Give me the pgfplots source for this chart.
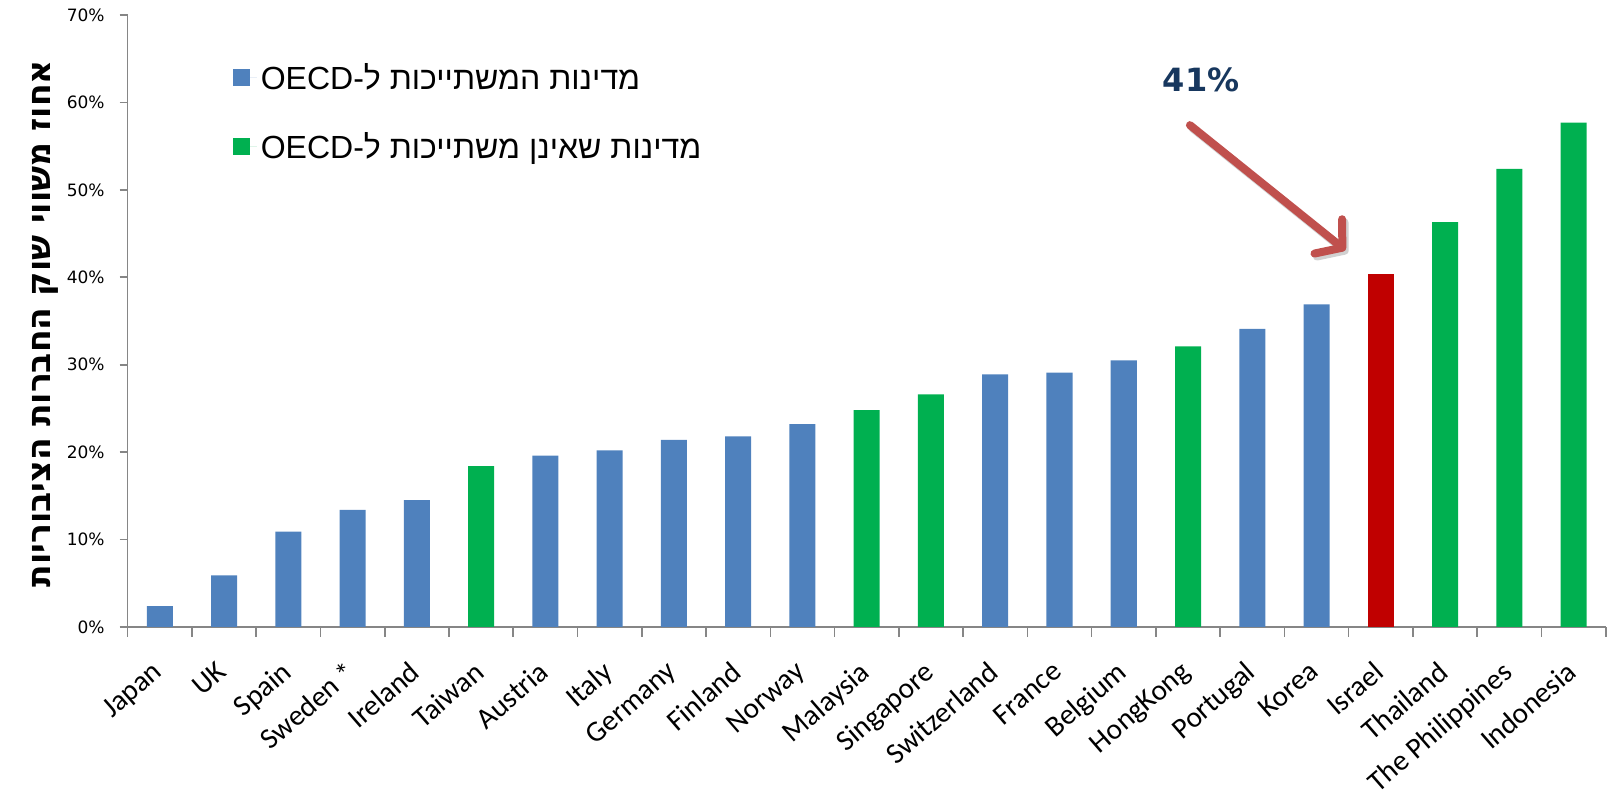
\documentclass[border=0pt]{standalone}
\usepackage{pgfplots}
\pgfplotsset{compat=1.18}
\usepackage{fontspec}
\setmainfont{Liberation Sans}
\newfontfamily\hebfont[Script=Hebrew]{Liberation Sans}
\newfontfamily\hebbold[Script=Hebrew]{DejaVu Sans Bold}
\newfontfamily\catfont{Carlito}
\newfontfamily\tickfont{DejaVu Sans}
\newfontfamily\tickbold{DejaVu Sans Bold}
\usetikzlibrary{arrows.meta}
\TeXXeTstate=1
\definecolor{oecdblue}{HTML}{4F81BD}
\definecolor{nonoecd}{HTML}{00B050}
\definecolor{israelred}{HTML}{C00000}
\definecolor{arrowred}{HTML}{C0504D}
\definecolor{navy}{HTML}{17375E}
\definecolor{axisgray}{HTML}{868686}
\begin{document}
\begin{tikzpicture}
\begin{axis}[
  scale only axis, width=739pt, height=306pt,
  xmin=-0.5, xmax=22.5, ymin=0, ymax=70,
  axis x line*=bottom, axis y line*=left,
  axis line style={axisgray, line width=0.8pt},
  ybar, bar width=0.405,
  tick align=outside,
  xtick={0,...,22},
  xticklabels={Japan,UK,Spain,Sweden *,Ireland,Taiwan,Austria,Italy,Germany,Finland,Norway,Malaysia,Singapore,Switzerland,France,Belgium,HongKong,Portugal,Korea,Israel,Thailand,The Philippines,Indonesia},
  major x tick style={draw=none},
  minor xtick={-0.5,0.5,...,22.5},
  minor tick length=5pt,
  minor x tick style={axisgray, line width=0.8pt},
  xticklabel style={font=\catfont\fontsize{14.6}{17}\selectfont, xshift=-4pt, yshift=-7.5pt, rotate=41, anchor=north east},
  ytick={0,10,...,70},
  major tick length=4pt,
  ytick style={axisgray, line width=0.8pt},
  /pgf/number format/assume math mode=true,
  yticklabel={\pgfmathprintnumber{\tick}\%},
  yticklabel style={font=\tickfont\fontsize{8.5}{10}\selectfont, xshift=-4pt},
  ylabel={\hebbold\beginR אחוז משווי שוק החברות הציבוריות\endR},
  ylabel style={font=\fontsize{16.5}{18}\selectfont, at={(rel axis cs:-0.056,0.496)}, anchor=center},
  legend style={draw=none, fill=none, at={(rel axis cs:0.0668,0.935)}, anchor=north west,
    font=\hebfont\fontsize{16}{18}\selectfont, row sep=16pt},
  legend cell align=left,
]
\addplot[fill=oecdblue, draw=none, bar shift=0pt,
  legend image code/.code={\fill[oecdblue] (0pt,-4.25pt) rectangle (8.5pt,4.25pt); \path (0pt,0pt) -- (12pt,0pt);}]
  coordinates {(0,2.4) (1,5.9) (2,10.9) (3,13.4) (4,14.5) (6,19.6) (7,20.2) (8,21.4) (9,21.8) (10,23.2) (13,28.9) (14,29.1) (15,30.5) (17,34.1) (18,36.9)};
\addlegendentry{\beginR מדינות המשתייכות ל-\beginL OECD\endL\endR}
\addplot[fill=nonoecd, draw=none, bar shift=0pt,
  legend image code/.code={\fill[nonoecd] (0pt,-4.25pt) rectangle (8.5pt,4.25pt); \path (0pt,0pt) -- (12pt,0pt);}]
  coordinates {(5,18.4) (11,24.8) (12,26.6) (16,32.1) (20,46.3) (21,52.4) (22,57.7)};
\addlegendentry{\beginR מדינות שאינן משתייכות ל-\beginL OECD\endL\endR}
\addplot[fill=israelred, draw=none, bar shift=0pt, forget plot]
  coordinates {(19,40.4)};
\node[font=\tickbold\fontsize{16}{19}\selectfont, text=navy] at (rel axis cs:0.7262,0.8938) {41\%};
\draw[black, opacity=0.18, line width=4pt, line cap=round, -{Straight Barb[length=9pt,width=22pt, round]}, shift={(1.2pt,-1.5pt)}] (axis cs:16.03,57.4) -- (axis cs:18.45,43.1);
\draw[arrowred, line width=4pt, line cap=round, -{Straight Barb[length=9pt,width=22pt, round]}] (axis cs:16.03,57.4) -- (axis cs:18.45,43.1);
\coordinate (bbSW) at (rel axis cs:-0.0864,-0.2804);
\coordinate (bbNE) at (rel axis cs:1.00156,1.0245);
\end{axis}
\pgfresetboundingbox
\path[use as bounding box] (bbSW) rectangle (bbNE);
\end{tikzpicture}
\end{document}
